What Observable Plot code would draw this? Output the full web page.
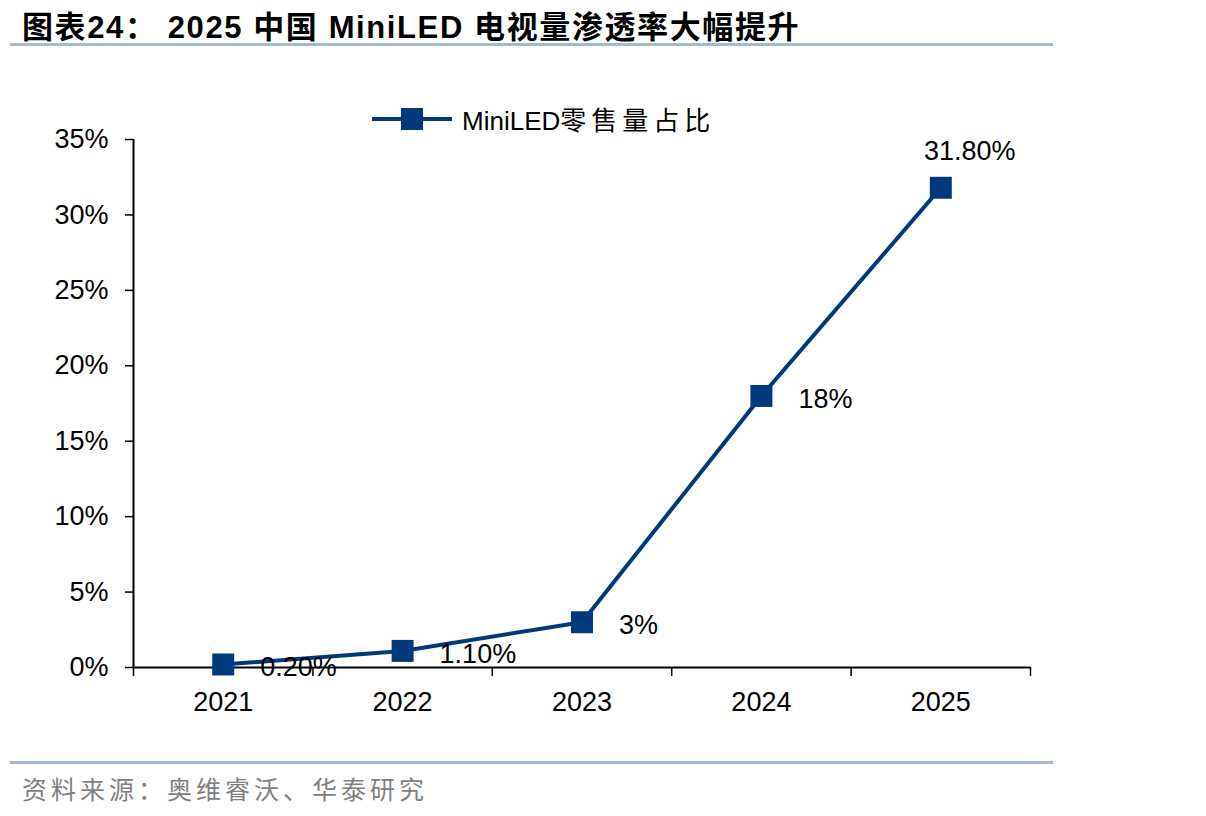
<!DOCTYPE html>
<html>
<head>
<meta charset="utf-8">
<script src="https://cdn.jsdelivr.net/npm/d3@7"></script>
<script src="https://cdn.jsdelivr.net/npm/@observablehq/plot@0.6"></script>
<style>
  body { margin: 0; width: 1206px; height: 816px; background: #fff; position: relative; overflow: hidden;
         font-family: "Liberation Sans", Arial, "Noto Sans CJK SC", sans-serif; }
  #title { position: absolute; left: 22px; top: 2px; font-size: 31px; font-weight: bold; color: #000; letter-spacing: 1.6px;
           font-family: "Liberation Sans Narrow", "Liberation Sans", "Noto Sans CJK SC", sans-serif; white-space: nowrap; }
  .rule { position: absolute; left: 10px; width: 1043px; height: 3px; background: #A7B9CF; }
  #legend { position: absolute; left: 372px; top: 100px; display: flex; align-items: center; font-size: 26px; color: #000;
            font-family: "Liberation Sans", "Noto Sans CJK SC", sans-serif; white-space: nowrap; }
  #legend .lbl { margin-left: 10px; }
  #legend .cjk { letter-spacing: 5px; }
  #chart { position: absolute; left: 0; top: 60px; }
  #caption { position: absolute; left: 22px; top: 770px; font-size: 25px; color: #7f7f7f; letter-spacing: 4px;
             font-family: "Noto Sans CJK SC", sans-serif; white-space: nowrap; }
</style>
</head>
<body>
<div id="title">图表24： 2025 中国 MiniLED 电视量渗透率大幅提升</div>
<div class="rule" style="top:43px"></div>
<div id="legend"></div>
<div id="chart"></div>
<div class="rule" style="top:761px"></div>
<div id="caption">资料来源：奥维睿沃、华泰研究</div>
<script>
const years = [2021, 2022, 2023, 2024, 2025];
const shares = [0.002, 0.011, 0.03, 0.18, 0.318];
const valueLabels = ["0.20%", "1.10%", "3%", "18%", "31.80%"];
const yTicks = [0, 0.05, 0.10, 0.15, 0.20, 0.25, 0.30, 0.35];
const seriesName = "MiniLED零售量占比";

const color = "#003A7C";
const data = years.map((y, i) => ({year: y, value: shares[i], label: valueLabels[i]}));
const boundaries = d3.range(years[0] - 0.5, years[years.length - 1] + 1, 1);

const chart = Plot.plot({
  width: 1206,
  height: 690,
  marginLeft: 133,
  marginRight: 176,
  marginTop: 79,
  marginBottom: 83,
  style: {fontFamily: "'Liberation Sans', Arial, sans-serif", fontSize: "27px", color: "#000", background: "transparent"},
  x: {domain: [years[0] - 0.5, years[years.length - 1] + 0.5]},
  y: {domain: [0, 0.35]},
  marks: [
    Plot.axisY({ticks: yTicks, tickFormat: d3.format(".0%"), tickSize: 8, tickPadding: 17, label: null, fontSize: 27, strokeWidth: 1.5}),
    Plot.axisX({ticks: boundaries, tickFormat: () => "", tickSize: 9, label: null, strokeWidth: 1.5}),
    Plot.axisX({ticks: years, tickFormat: d => String(d), tickSize: 0, tickPadding: 24, label: null, fontSize: 27}),
    Plot.ruleX([boundaries[0]], {y1: 0, y2: 0.35, stroke: "#000", strokeWidth: 2}),
    Plot.ruleY([0], {stroke: "#000", strokeWidth: 2}),
    Plot.line(data, {x: "year", y: "value", stroke: color, strokeWidth: 4}),
    Plot.dot(data, {x: "year", y: "value", symbol: "square", r: 12.4, fill: color, stroke: null}),
    Plot.text(data.slice(0, 4), {x: "year", y: "value", text: "label", textAnchor: "start", dx: 37, dy: 3, fontSize: 27, fill: "#000"}),
    Plot.text(data.slice(4), {x: "year", y: "value", text: "label", textAnchor: "middle", dx: 29, dy: -36, fontSize: 27, fill: "#000"})
  ]
});
document.getElementById("chart").appendChild(chart);

// legend
const leg = document.getElementById("legend");
leg.innerHTML = `<svg width="80" height="30"><line x1="0" y1="15" x2="80" y2="15" stroke="${color}" stroke-width="4"/><rect x="29" y="4" width="22" height="22" fill="${color}"/></svg>` +
  `<span class="lbl">MiniLED<span class="cjk">零售量占比</span></span>`;
</script>
</body>
</html>
